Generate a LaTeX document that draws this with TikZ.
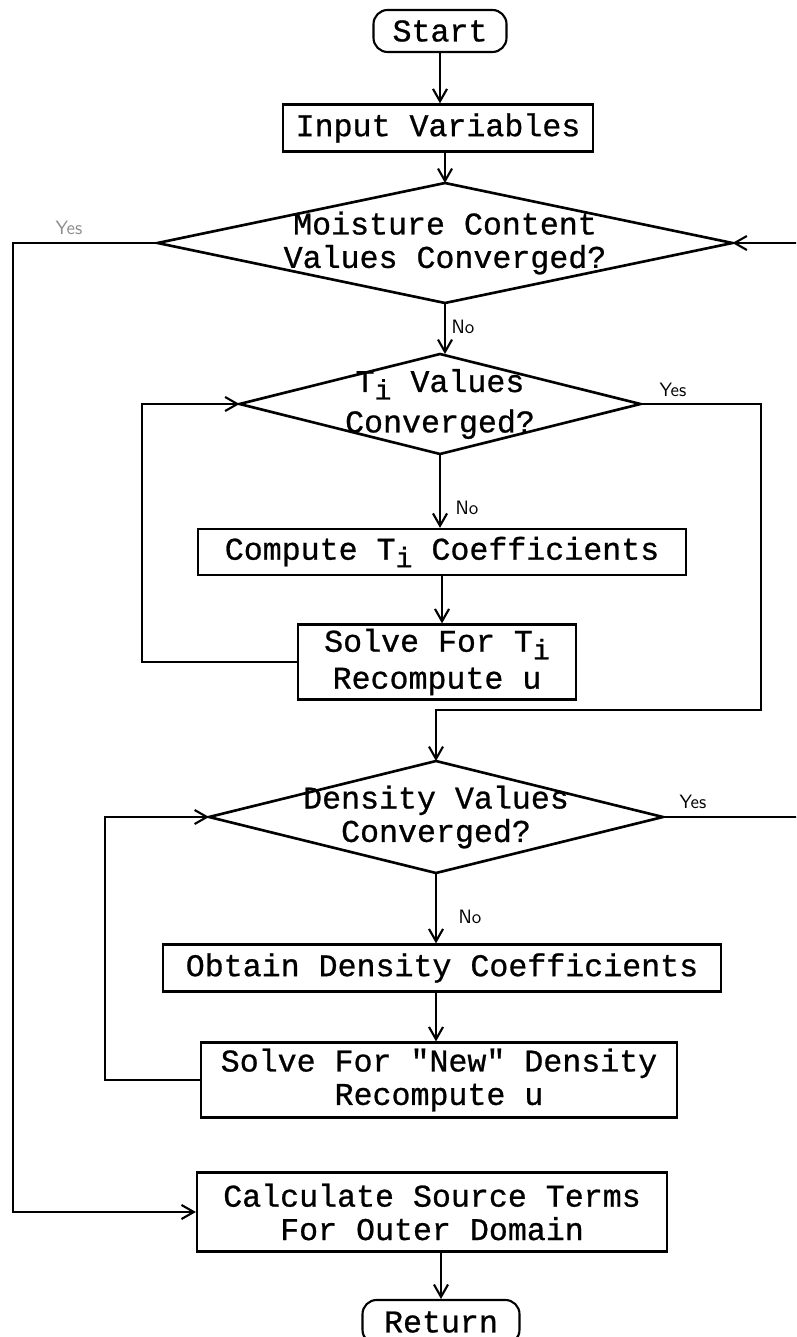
\documentclass[tikz,border=0pt]{standalone}
\usepackage{fontspec}
\setmonofont{Liberation Mono}[FakeBold=0.8]
\usetikzlibrary{shapes.geometric,arrows.meta}
\newcommand{\Tsubi}{T\raisebox{-0.45ex}{\fontsize{16}{16}\selectfont i}}
\begin{document}
\begin{tikzpicture}[x=0.02cm, y=-0.02cm, line width=1pt,
  every node/.style={font=\fontsize{18}{19}\selectfont\ttfamily, align=center},
  term/.style={draw, line width=1.2pt, rounded corners=8pt, inner sep=0pt},
  procbox/.style={draw, line width=1.3pt, inner sep=0pt},
  test/.style={draw, diamond, line width=1.5pt, inner sep=0pt, outer sep=0pt},
  ans/.style={font=\fontsize{11}{11}\selectfont\sffamily},
  arr/.style={-{Straight Barb[length=7pt, width=8pt, line width=1.2pt]}}]
  \useasboundingbox (0,0) rectangle (796,1337);
  \begin{scope}
  \clip (0,0) rectangle (796,1337);
  \node[term, minimum width=2.66cm, minimum height=0.84cm] (start) at (440,31) {Start};
  \node[procbox, minimum width=6.2cm, minimum height=0.94cm] (input) at (438,128) {Input Variables};
  \node[test, minimum width=11.5cm, minimum height=2.4cm,
    label=center:{Moisture Content\\Values Converged?}] (moist) at (445,243) {};
  \node[test, minimum width=8.02cm, minimum height=2cm,
    label=center:{\Tsubi{} Values\\[4pt]Converged?}] (ti) at (440,404) {};
  \node[procbox, minimum width=9.76cm, minimum height=0.92cm] (coef) at (442,552) {Compute \Tsubi{} Coefficients};
  \node[procbox, minimum width=5.56cm, minimum height=1.5cm] (solveT) at (437,662) {Solve For \Tsubi\\[2pt]Recompute u};
  \node[test, minimum width=9.08cm, minimum height=2.24cm,
    label=center:{Density Values\\Converged?}] (dens) at (436,817) {};
  \node[procbox, minimum width=11.16cm, minimum height=0.94cm] (obtain) at (442,968) {Obtain Density Coefficients};
  \node[procbox, minimum width=9.52cm, minimum height=1.5cm] (solveD) at (439,1080) {Solve For "New" Density\\Recompute u};
  \node[procbox, minimum width=9.4cm, minimum height=1.58cm] (calc) at (432,1212) {Calculate Source Terms\\For Outer Domain};
  \node[term, minimum width=3.14cm, minimum height=0.88cm] (ret) at (441,1322) {Return};

  \coordinate (lloop) at (13,0);
  \coordinate (rloop) at (812,0);
  \coordinate (tiloop) at (142,0);
  \coordinate (tiyes) at (761,710);
  \coordinate (dloop) at (105,0);

  \draw[arr] (start.south) -- (start.south |- input.north);
  \draw[arr] (input.south -| moist.north) -- (moist.north);
  \draw[arr] (moist.south) -- (moist.south |- ti.north);
  \draw[arr] (ti.south) -- (ti.south |- coef.north);
  \draw[arr] (coef.south) -- (coef.south |- solveT.north);
  \draw[arr] (solveT.west) -- (solveT.west -| tiloop) |- (ti.west);
  \draw[arr] (ti.east) -| (tiyes) -| (dens.north);
  \draw[arr] (dens.south) -- (dens.south |- obtain.north);
  \draw[arr] (obtain.south -| dens.south) -- (dens.south |- solveD.north);
  \draw[arr] (solveD.west) -- (solveD.west -| dloop) |- (dens.west);
  \draw[arr] (dens.east) -- (dens.east -| rloop) |- (moist.east);
  \draw[arr] (moist.west) -- (moist.west -| lloop) |- (calc.west);
  \draw[arr] (calc.south -| ret.north) -- (ret.north);

  \node[ans, text=black!45] (yesM) at (69,228) {Yes};
  \node[ans] (noM) at (463,327) {No};
  \node[ans] (yesT) at (673,390) {Yes};
  \node[ans] (noT) at (467,508) {No};
  \node[ans] (yesD) at (693,802) {Yes};
  \node[ans] (noD) at (470,917) {No};
  \end{scope}
\end{tikzpicture}
\end{document}
